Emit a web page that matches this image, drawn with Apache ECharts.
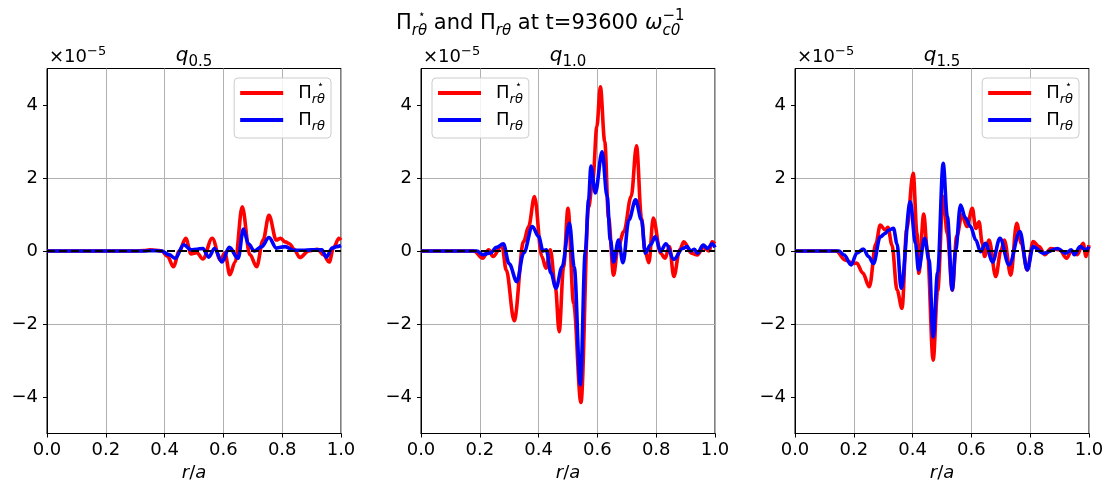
<!DOCTYPE html>
<html><head><meta charset="utf-8">
<script src="https://cdn.jsdelivr.net/npm/echarts@6/dist/echarts.min.js"></script>
<style>html,body{margin:0;padding:0;background:#fff}#c{width:1108px;height:489px}</style>
</head><body><div id="c"></div>
<script>
// ---- data (values in units of 1e-5) ----
const xTicks = [0, 0.2, 0.4, 0.6, 0.8, 1.0];
const yTicks = [-4, -2, 0, 2, 4];
const panelLabels = ['0.5', '1.0', '1.5'];
const zeroLine = [[0, 0], [1, 0]];

const q05Star = [[0,0],[0.3,0],[0.33,0.01],[0.35,0.03],[0.37,0.02],[0.39,0],[0.41,-0.15],[0.43,-0.43],[0.45,0.0],[0.472,0.35],[0.49,-0.08],[0.51,-0.05],[0.53,-0.22],[0.562,0.35],[0.59,-0.25],[0.605,-0.05],[0.622,-0.65],[0.64,-0.3],[0.664,1.21],[0.69,-0.1],[0.713,-0.43],[0.735,0.3],[0.755,0.98],[0.78,0.3],[0.795,0.35],[0.81,0.25],[0.825,0.2],[0.84,0.05],[0.86,-0.18],[0.89,0.0],[0.92,0.05],[0.94,-0.1],[0.96,-0.3],[0.975,0.1],[0.993,0.35],[1,0.3]];
const q05Pi = [[0,0],[0.33,0],[0.36,0.01],[0.39,0],[0.415,-0.1],[0.436,-0.2],[0.465,0.17],[0.49,0.03],[0.51,0.05],[0.53,0.07],[0.55,-0.17],[0.57,0.07],[0.595,-0.3],[0.62,0.1],[0.65,-0.2],[0.668,0.6],[0.685,0.2],[0.705,0],[0.73,0.12],[0.755,0.37],[0.78,0.08],[0.81,0.12],[0.84,0.02],[0.87,0.02],[0.9,0.03],[0.935,0.03],[0.95,-0.17],[0.97,0.08],[0.985,0.12],[1,0.15]];

const q10Star = [[0,0],[0.18,0],[0.21,-0.2],[0.23,0.03],[0.245,-0.15],[0.275,0.16],[0.29,-0.52],[0.317,-1.91],[0.349,0.26],[0.366,0.67],[0.386,1.49],[0.411,-0.15],[0.425,-0.47],[0.44,0.03],[0.457,-0.98],[0.47,-2.21],[0.485,-0.43],[0.5,1.17],[0.519,-1.43],[0.544,-4.15],[0.57,1.2],[0.585,2.0],[0.598,3.4],[0.61,4.5],[0.625,3.0],[0.638,0.9],[0.655,-0.66],[0.67,0.1],[0.69,0.53],[0.715,1.5],[0.733,2.88],[0.75,0.9],[0.762,0.0],[0.775,-0.32],[0.79,0.9],[0.815,-0.06],[0.83,-0.2],[0.845,0.12],[0.86,-0.7],[0.88,0.03],[0.894,0.25],[0.92,-0.06],[0.94,-0.11],[0.96,0.1],[0.98,0.0],[0.99,0.25],[1,0.2]];
const q10Pi = [[0,0],[0.19,0],[0.21,-0.1],[0.236,-0.05],[0.257,0.1],[0.28,0.2],[0.3,-0.35],[0.326,-0.84],[0.349,-0.06],[0.379,0.67],[0.4,0.4],[0.415,0],[0.426,0.03],[0.442,-0.6],[0.459,-1.02],[0.48,-0.43],[0.505,0.76],[0.521,-0.43],[0.542,-3.67],[0.559,0],[0.57,1.4],[0.578,2.33],[0.593,1.59],[0.616,2.72],[0.633,1.5],[0.644,0.3],[0.655,-0.3],[0.672,0.3],[0.687,-0.32],[0.707,0.85],[0.73,1.4],[0.75,0.85],[0.763,-0.06],[0.78,0.16],[0.797,0.39],[0.815,-0.01],[0.833,0.2],[0.86,-0.23],[0.89,0.07],[0.905,0.12],[0.917,0],[0.93,0.05],[0.94,-0.06],[0.96,0.16],[0.975,0.07],[0.99,0.2],[1,0.1]];

const q15Star = [[0,0],[0.14,0],[0.171,-0.25],[0.199,-0.34],[0.21,-0.33],[0.23,-0.6],[0.253,-0.98],[0.275,0.2],[0.29,0.71],[0.307,0.57],[0.316,0.65],[0.33,0.16],[0.347,-1.07],[0.364,-1.57],[0.38,0.6],[0.402,2.13],[0.415,0.48],[0.421,-0.61],[0.438,1.01],[0.45,0.03],[0.47,-2.99],[0.485,-1.1],[0.504,1.49],[0.518,0.48],[0.535,-1.07],[0.55,0.4],[0.568,0.99],[0.585,0.67],[0.603,1.17],[0.615,0.62],[0.626,0.8],[0.637,0.21],[0.645,-0.15],[0.66,0.3],[0.683,-0.7],[0.7,0.0],[0.712,0.3],[0.734,-0.66],[0.754,0.76],[0.77,0.2],[0.79,-0.52],[0.81,0.26],[0.83,0.12],[0.85,-0.1],[0.87,0.07],[0.9,0.03],[0.924,-0.2],[0.94,0],[0.96,-0.1],[0.98,0.21],[0.99,-0.15],[1,0.16]];
const q15Pi = [[0,0],[0.15,0],[0.167,-0.11],[0.191,-0.38],[0.21,-0.06],[0.233,0.05],[0.25,-0.15],[0.267,-0.34],[0.29,0.39],[0.307,0.48],[0.318,0.57],[0.335,0.62],[0.347,0.2],[0.361,-1.02],[0.392,1.35],[0.41,0.2],[0.42,-0.52],[0.441,0.35],[0.456,-0.25],[0.47,-2.35],[0.485,-0.6],[0.504,2.4],[0.518,0.95],[0.535,-1.07],[0.546,0],[0.563,1.26],[0.58,0.9],[0.597,0.67],[0.615,0.3],[0.631,-0.02],[0.648,0.21],[0.672,-0.3],[0.697,0.35],[0.728,-0.38],[0.765,0.53],[0.79,-0.52],[0.81,0.12],[0.845,-0.06],[0.893,0.07],[0.92,-0.06],[0.94,0.03],[0.95,-0.1],[0.97,0.12],[0.99,0.03],[1,0.12]];

const starSeries = [q05Star, q10Star, q15Star];
const piSeries = [q05Pi, q10Pi, q15Pi];

// ---- layout ----
const FONT = 'DejaVu Sans';
const gridLefts = [47, 421, 795];
const gridW = 294, gridTop = 68.5, gridH = 365;

const chart = echarts.init(document.getElementById('c'), null, {renderer: 'canvas'});

const grids = [], xAxes = [], yAxes = [], series = [], legends = [], graphics = [];

const legendRich = {
  b: {fontFamily: FONT, fontSize: 18, color: '#000', lineHeight: 26, padding: [0, 0, 0, 10]},
  sp: {fontFamily: FONT, fontSize: 11, color: '#000', lineHeight: 14, verticalAlign: 'top', width: 0},
  sb: {fontFamily: FONT, fontSize: 13, fontStyle: 'italic', color: '#000', lineHeight: 14, verticalAlign: 'bottom'}
};
const legendFmt = n => n === 'star' ? '{b|Π}{sb|r}{sp|⋆}{sb|θ}' : '{b|Π}{sb|rθ}';

for (let i = 0; i < 3; i++) {
  grids.push({left: gridLefts[i], top: gridTop, width: gridW, height: gridH,
    show: true, borderColor: '#000', borderWidth: 1, backgroundColor: '#fff', containLabel: false});
  xAxes.push({
    gridIndex: i, type: 'value', min: xTicks[0], max: xTicks[xTicks.length - 1], interval: 0.2,
    axisLine: {show: true, onZero: false, lineStyle: {color: '#000', width: 1}},
    axisTick: {show: true, length: 4, lineStyle: {color: '#000'}},
    axisLabel: {fontFamily: FONT, fontSize: 18, color: '#000', margin: 8, formatter: v => v.toFixed(1)},
    splitLine: {show: true, lineStyle: {color: '#b0b0b0', width: 1}},
    name: '{i|r}{n|/}{i|a}', nameLocation: 'middle', nameGap: 31,
    nameTextStyle: {rich: {
      i: {fontFamily: FONT, fontSize: 18, fontStyle: 'italic', color: '#000'},
      n: {fontFamily: FONT, fontSize: 18, color: '#000'}}}
  });
  yAxes.push({
    gridIndex: i, type: 'value', min: -5, max: 5, interval: 1,
    axisLine: {show: true, onZero: false, lineStyle: {color: '#000', width: 1}},
    axisTick: {show: true, length: 4, lineStyle: {color: '#000'}, customValues: yTicks},
    axisLabel: {fontFamily: FONT, fontSize: 18, color: '#000', margin: 9, customValues: yTicks,
      formatter: v => (v < 0 ? '\u2212' + Math.abs(v) : String(v))},
    splitLine: {show: true, lineStyle: {color: ['rgba(0,0,0,0)', '#b0b0b0'], width: 1}}
  });
  series.push({
    name: 'star', type: 'line', xAxisIndex: i, yAxisIndex: i, data: starSeries[i],
    showSymbol: false, smooth: 0.35, smoothMonotone: 'x', color: '#ff0000',
    lineStyle: {color: '#ff0000', width: 3.6}, z: 2, animation: false
  });
  series.push({
    name: 'pi', type: 'line', xAxisIndex: i, yAxisIndex: i, data: piSeries[i],
    showSymbol: false, smooth: 0.35, smoothMonotone: 'x', color: '#0000ff',
    lineStyle: {color: '#0000ff', width: 3.6}, z: 3, animation: false
  });
  series.push({
    name: 'zero', type: 'line', xAxisIndex: i, yAxisIndex: i, data: zeroLine,
    showSymbol: false, silent: true, color: '#000',
    lineStyle: {color: '#000', width: 1.8, type: [8, 4]}, z: 4, animation: false
  });
  const leg = {
    orient: 'vertical', top: 78, data: [{name: 'star', icon: 'rect'}, {name: 'pi', icon: 'rect'}],
    itemWidth: 43, itemHeight: 4, itemGap: 5, padding: [2, 6, 5, 6],
    backgroundColor: 'rgba(255,255,255,0.85)', borderColor: '#cccccc', borderWidth: 1, borderRadius: 4,
    formatter: legendFmt, textStyle: {rich: legendRich}, selectedMode: false
  };
  if (i === 1) leg.left = 432; else leg.right = 1108 - (gridLefts[i] + gridW - 10);
  legends.push(leg);

  const cx = gridLefts[i] + gridW / 2;
  graphics.push({type: 'text', x: cx, y: 56, silent: true, style: {
    text: '{q|q}{s|' + panelLabels[i] + '}', align: 'center', verticalAlign: 'middle',
    rich: {
      q: {fontFamily: FONT, fontSize: 20, fontStyle: 'italic', color: '#000', lineHeight: 28},
      s: {fontFamily: FONT, fontSize: 15, color: '#000', lineHeight: 18, verticalAlign: 'bottom'}
    }}});
  graphics.push({type: 'text', x: gridLefts[i] + 2, y: 57, silent: true, style: {
    text: '{b|×10}{p|−5}', align: 'left', verticalAlign: 'middle',
    rich: {
      b: {fontFamily: FONT, fontSize: 18, color: '#000', lineHeight: 24},
      p: {fontFamily: FONT, fontSize: 13, color: '#000', lineHeight: 16, verticalAlign: 'top'}
    }}});
}

graphics.push({type: 'text', x: 396, y: 24, silent: true, style: {
  text: '{b|Π}{sb|r}{sp|⋆}{sb|θ}{b| and Π}{sb|rθ}{b| at t=93600 }{w|ω}{su|−1}{sc|c0}',
  align: 'left', verticalAlign: 'middle',
  rich: {
    b: {fontFamily: FONT, fontSize: 21, color: '#000', lineHeight: 30},
    w: {fontFamily: FONT, fontSize: 21, fontStyle: 'italic', color: '#000', lineHeight: 30},
    sp: {fontFamily: FONT, fontSize: 12, color: '#000', lineHeight: 20, verticalAlign: 'top', width: 0},
    sb: {fontFamily: FONT, fontSize: 15, fontStyle: 'italic', color: '#000', lineHeight: 14, verticalAlign: 'bottom'},
    su: {fontFamily: FONT, fontSize: 15, color: '#000', lineHeight: 16, verticalAlign: 'top', width: 0},
    sc: {fontFamily: FONT, fontSize: 15, fontStyle: 'italic', color: '#000', lineHeight: 14, verticalAlign: 'bottom'}
  }}});

chart.setOption({
  animation: false,
  backgroundColor: '#fff',
  grid: grids, xAxis: xAxes, yAxis: yAxes, series: series, legend: legends,
  graphic: graphics
});
</script></body></html>
